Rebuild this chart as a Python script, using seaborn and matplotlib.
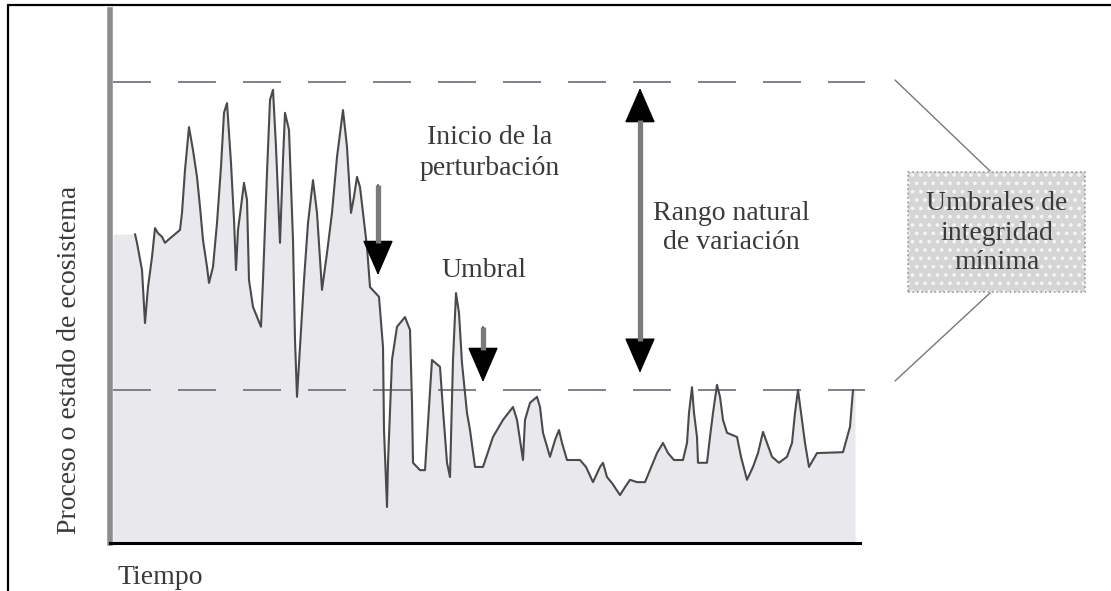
import matplotlib.pyplot as plt
import matplotlib.patches as mpatches
import matplotlib.lines as mlines
import seaborn as sns

# ---------------------------------------------------------------------
# values
# tiempo: time step, estado: ecosystem state (upper threshold = 100)
tiempo = [25, 27, 32, 35, 38, 42, 45, 48, 52, 55, 58, 70, 72, 75, 79, 83, 87, 90,
          93, 97, 99, 103, 107, 111, 114, 117, 121, 124, 126, 128, 131, 134, 137,
          139, 143, 151, 153, 157, 160, 163, 166, 170, 173, 175, 179, 183, 185, 187,
          190, 194, 198, 203, 207, 212, 217, 222, 227, 233, 237, 241, 244, 247, 250,
          253, 257, 260, 269, 273, 274, 277, 278, 282, 287, 295, 300, 302, 303, 310,
          315, 318, 322, 330, 333, 337, 340, 343, 346, 349, 352, 357, 360, 365, 373,
          383, 393, 403, 407, 413, 415, 420, 427, 430, 433, 440, 445, 449, 452, 457,
          470, 476, 483, 490, 493, 497, 502, 510, 515, 520, 527, 535, 540, 547, 553,
          558, 564, 573, 577, 579, 582, 584, 587, 588, 597, 600, 603, 607, 610, 613,
          617, 627, 631, 637, 643, 648, 653, 657, 662, 669, 677, 682, 685, 688, 691,
          695, 699, 703, 707, 733, 740, 743]
estado = [67.0, 65.1, 59.2, 47.7, 55.5, 62.0, 68.3, 67.2, 66.4, 65.1, 65.7, 67.9,
          71.6, 80.9, 90.2, 85.2, 79.4, 72.9, 65.7, 59.9, 56.4, 59.9, 69.4, 81.6,
          93.3, 95.4, 82.4, 70.1, 59.2, 67.9, 72.9, 78.1, 74.4, 57.0, 51.2, 46.9,
          57.0, 80.3, 96.1, 98.3, 85.9, 65.1, 83.1, 93.3, 89.6, 65.7, 44.0, 31.7,
          42.5, 57.0, 69.4, 78.7, 71.6, 54.9, 62.9, 71.6, 83.7, 93.9, 85.9, 71.6,
          75.1, 79.4, 77.2, 71.6, 64.2, 55.5, 53.4, 42.5, 24.5, 7.8, 17.4, 39.7,
          46.9, 49.0, 46.2, 30.4, 17.4, 15.8, 15.8, 26.0, 39.7, 38.2, 28.9, 17.4,
          14.3, 39.7, 54.2, 49.9, 39.0, 28.2, 24.5, 16.5, 16.5, 23.0, 26.7, 29.5,
          26.7, 18.0, 26.7, 30.4, 31.7, 29.5, 23.9, 18.7, 22.3, 24.5, 21.7, 18.0,
          18.0, 16.5, 13.2, 16.5, 17.4, 14.3, 13.0, 10.4, 12.1, 13.7, 13.2, 13.2,
          15.8, 19.5, 21.7, 19.5, 18.0, 18.0, 21.7, 28.2, 33.8, 28.2, 23.0, 17.4,
          17.4, 23.0, 28.2, 34.3, 31.7, 26.7, 23.9, 23.0, 18.7, 13.7, 16.5, 19.5,
          24.1, 21.7, 18.7, 17.4, 18.7, 21.7, 28.2, 33.2, 28.2, 21.7, 16.5, 18.0,
          19.5, 19.7, 25.2, 33.2]
# edges of the shaded area (left start, right end)
borde_tiempo = [3, 745]
borde_estado = [67.0, 33.2]

umbral_superior = 100.0
umbral_inferior = 33.2

# arrows: (time, from, to)
flecha_perturbacion = (268, 77.7, 58.1)
flecha_umbral = (373, 46.9, 34.9)
flecha_rango = (530, 98.7, 36.9)

textos = {
    'inicio': 'Inicio de la\nperturbación',
    'rango': 'Rango natural\nde variación',
    'umbral': 'Umbral',
    'caja': 'Umbrales de\nintegridad\nmínima',
    'y': 'Proceso o estado de ecosistema',
    'x': 'Tiempo',
}

# ---------------------------------------------------------------------
sns.set_theme(style='white')
plt.rcParams['font.family'] = ['Liberation Serif', 'DejaVu Serif']
plt.rcParams['hatch.linewidth'] = 1.5
txt_color = '#3a3a3a'
W, H = 1111, 591


def fx(px):
    return px / W


def fy(py):
    return 1 - py / H


fig = plt.figure(figsize=(11.11, 5.91), dpi=100)
ax = fig.add_axes([fx(110), fy(543), 750 / W, 533 / H])
ax.set_xlim(0, 750)
ax.set_ylim(0, 115.6)
ax.set_xticks([])
ax.set_yticks([])
for s in ['top', 'right']:
    ax.spines[s].set_visible(False)
ax.spines['left'].set_color('#8c8c8c')
ax.spines['left'].set_linewidth(4.0)
ax.spines['bottom'].set_color('black')
ax.spines['bottom'].set_linewidth(2.2)

# shaded area + series
ft = [borde_tiempo[0]] + tiempo + [borde_tiempo[1]]
fv = [borde_estado[0]] + estado + [borde_estado[1]]
ax.fill_between(ft, fv, 0, color='#e9e9ed', lw=0, zorder=1)
sns.lineplot(x=tiempo, y=estado, ax=ax, color='#4a4a4a', lw=1.5,
             sort=False, estimator=None, zorder=3)

# thresholds
for v in [umbral_superior, umbral_inferior]:
    ax.plot([3, 755], [v, v], color='#6a6a7a', lw=1.2,
            ls=(0, (22.8, 16.2)), clip_on=False, zorder=2)


# arrows
def flecha(t, y0, y1, doble=False):
    estilo = '<|-|>' if doble else '-|>'
    ax.annotate('', xy=(t, y1), xytext=(t, y0),
                arrowprops=dict(arrowstyle=estilo + ',head_length=1.15,head_width=0.5',
                                color='black', lw=1, shrinkA=0, shrinkB=0,
                                mutation_scale=20), zorder=5)
    head = 6.9
    top = y0 - head if doble else y0
    ax.plot([t, t], [top, y1 + head], color='#7a7a7a', lw=3.8,
            solid_capstyle='butt', zorder=6)


flecha(*flecha_perturbacion)
flecha(*flecha_umbral)
flecha(*flecha_rango, doble=True)

# labels
fs = 20
fig.text(fx(490), fy(153), textos['inicio'], ha='center', va='center',
         fontsize=fs, color=txt_color, linespacing=1.3)
fig.text(fx(731), fy(228), textos['rango'], ha='center', va='center',
         fontsize=fs, color=txt_color, linespacing=1.2)
fig.text(fx(484), fy(277), textos['umbral'], ha='center', va='baseline',
         fontsize=fs, color=txt_color)
fig.text(fx(70), fy(360), textos['y'], ha='center', va='center', rotation=90,
         fontsize=fs, color=txt_color)
fig.text(fx(117), fy(584), textos['x'], ha='left', va='baseline',
         fontsize=fs, color=txt_color)

# box on the right
caja = mpatches.Rectangle((fx(908), fy(292)), 177 / W, 120 / H,
                          transform=fig.transFigure, facecolor='#d5d5d5',
                          edgecolor='#f4f4f8', lw=0, hatch='..')
fig.add_artist(caja)
borde = mpatches.Rectangle((fx(908), fy(292)), 177 / W, 120 / H,
                           transform=fig.transFigure, facecolor='none',
                           edgecolor='#9a9a9a', lw=1.2, ls=':')
fig.add_artist(borde)
fig.text(fx(997), fy(233), textos['caja'], ha='center', va='center',
         fontsize=fs, color=txt_color, linespacing=1.25)
fig.add_artist(mlines.Line2D([fx(895), fx(990)], [fy(80), fy(171)],
                             transform=fig.transFigure, color='#777777', lw=1))
fig.add_artist(mlines.Line2D([fx(990), fx(895)], [fy(293), fy(381)],
                             transform=fig.transFigure, color='#777777', lw=1))

# outer frame (top and left only)
fig.add_artist(mlines.Line2D([fx(8), 1], [fy(5), fy(5)],
                             transform=fig.transFigure, color='black', lw=1.6))
fig.add_artist(mlines.Line2D([fx(8), fx(8)], [fy(5), 0],
                             transform=fig.transFigure, color='black', lw=1.6))

fig.savefig('out.png', dpi=100)
